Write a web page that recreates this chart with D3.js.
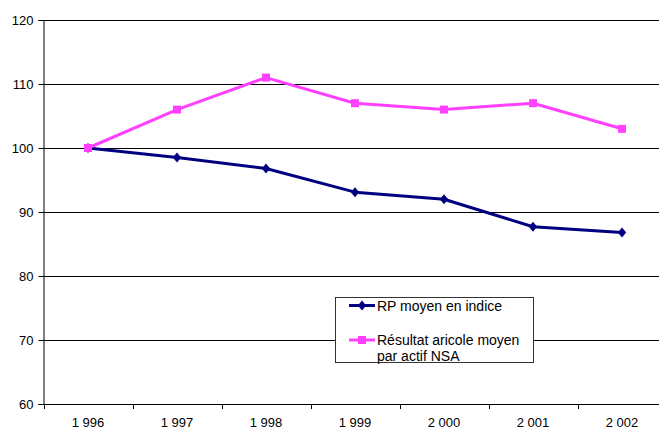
<!DOCTYPE html>
<html><head><meta charset="utf-8">
<script src="https://cdn.jsdelivr.net/npm/d3@7"></script>
<style>body{margin:0;background:#fff}svg{display:block}text{font-family:"Liberation Sans",Arial,sans-serif}</style>
</head><body>
<svg id="c" width="659" height="430"></svg>
<script>
const years = ["1 996","1 997","1 998","1 999","2 000","2 001","2 002"];
const rpValues = [100, 98.5, 96.8, 93.1, 92.0, 87.7, 86.8];
const resultValues = [100, 106, 111, 107, 106, 107, 103];
const yTicks = [60,70,80,90,100,110,120];
const seriesNames = ["RP moyen en indice", "Résultat aricole moyen\npar actif NSA"];

(function(){
const svg = d3.select("#c");
const pL = 43.5, pT = 20, pB = 404, band = 89;
const x = d3.scaleBand().domain(years).range([pL, pL + band*years.length]).paddingInner(0).paddingOuter(0);
const y = d3.scaleLinear().domain([60,120]).range([pB, pT]);

svg.append("g").selectAll("line").data(yTicks.filter(v=>v>60)).join("line")
  .attr("x1", pL).attr("x2", 659).attr("y1", d=>Math.round(y(d))+0.5).attr("y2", d=>Math.round(y(d))+0.5)
  .attr("stroke","#000").attr("stroke-width",1);

const ya = svg.append("g").attr("transform",`translate(${pL},0)`)
  .call(d3.axisLeft(y).tickValues(yTicks).tickSize(5).tickPadding(5).tickFormat(d3.format("d")));
ya.select(".domain").attr("stroke","#000");
ya.selectAll(".tick line").attr("stroke","#000");
ya.selectAll("text").attr("font-size",13).attr("fill","#000").attr("font-family","Liberation Sans, Arial, sans-serif");

const xa = svg.append("g").attr("transform",`translate(0,${pB+0.5})`)
  .call(d3.axisBottom(x).tickSize(0).tickPadding(13));
xa.select(".domain").attr("stroke","#000").attr("d", `M${pL},0H659`);
xa.selectAll("text").attr("font-size",13).attr("fill","#000").attr("font-family","Liberation Sans, Arial, sans-serif");
svg.append("g").selectAll("line").data(d3.range(years.length+1)).join("line")
  .attr("x1", i=>Math.round(pL + i*band)+0.5).attr("x2", i=>Math.round(pL + i*band)+0.5)
  .attr("y1", pB).attr("y2", pB+5).attr("stroke","#000");

const cx = d => x(d) + x.bandwidth()/2;
const line = d3.line().x(d=>cx(d[0])).y(d=>y(d[1]));

const blue = "#000080", pink = "#ff40ff";
const rpData = years.map((yr,i)=>[yr, rpValues[i]]);
const resData = years.map((yr,i)=>[yr, resultValues[i]]);

svg.append("path").datum(rpData).attr("d", line).attr("fill","none").attr("stroke",blue).attr("stroke-width",3).attr("stroke-linejoin","round");
svg.append("path").datum(resData).attr("d", line).attr("fill","none").attr("stroke",pink).attr("stroke-width",3).attr("stroke-linejoin","round");

const diamond = "M0,-5L4.2,0L0,5L-4.2,0Z";
svg.append("g").selectAll("path").data(rpData).join("path")
  .attr("d", diamond).attr("transform", d=>`translate(${cx(d[0])},${y(d[1])})`).attr("fill",blue);
svg.append("g").selectAll("rect").data(resData).join("rect")
  .attr("x", d=>cx(d[0])-4).attr("y", d=>y(d[1])-4).attr("width",8).attr("height",8).attr("fill",pink);

const lg = svg.append("g");
lg.append("rect").attr("x",335.5).attr("y",297.5).attr("width",198).attr("height",65).attr("fill","#fff").attr("stroke","#333").attr("stroke-width",1);
const items = [{c:blue, t:seriesNames[0], y:305.5, m:"d"},{c:pink, t:seriesNames[1], y:340, m:"s"}];
items.forEach(it=>{
  lg.append("line").attr("x1",349).attr("x2",375).attr("y1",it.y).attr("y2",it.y).attr("stroke",it.c).attr("stroke-width",3);
  if(it.m==="d") lg.append("path").attr("d",diamond).attr("transform",`translate(362,${it.y})`).attr("fill",it.c);
  else lg.append("rect").attr("x",358).attr("y",it.y-4).attr("width",8).attr("height",8).attr("fill",it.c);
  const lines = it.t.split("\n");
  const tx = lg.append("text").attr("x",377).attr("y",it.y+5).attr("font-size",14).attr("fill","#000");
  lines.forEach((s,k)=>tx.append("tspan").attr("x",377).attr("dy", k===0?0:16).text(s));
});
})();
</script>
</body></html>
